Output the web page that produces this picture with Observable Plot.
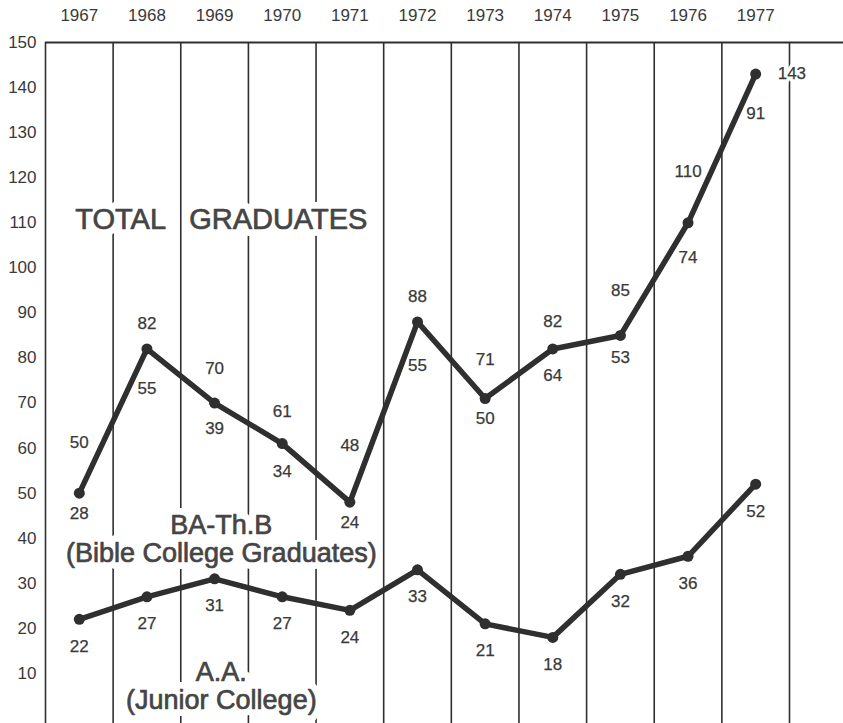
<!DOCTYPE html>
<html><head><meta charset="utf-8">
<script src="https://cdn.jsdelivr.net/npm/d3@7"></script>
<script src="https://cdn.jsdelivr.net/npm/@observablehq/plot@0.6"></script>
<style>
html,body{margin:0;padding:0;background:#fff;}
</style>
</head><body><div id="chart"></div>
<script>
// ---- data ----
const years = [1967, 1968, 1969, 1970, 1971, 1972, 1973, 1974, 1975, 1976, 1977];
const totalGraduates = [50, 82, 70, 61, 48, 88, 71, 82, 85, 110, 143];
const bibleCollege   = [28, 55, 39, 34, 24, 55, 50, 64, 53, 74, 91];   // BA-Th.B
const juniorCollege  = [22, 27, 31, 27, 24, 33, 21, 18, 32, 36, 52];   // A.A.
const yTicks = [10, 20, 30, 40, 50, 60, 70, 80, 90, 100, 110, 120, 130, 140, 150];

// ---- styling ----
const ink = "#2f2f2f";
const textInk = "#3a3a3a";
const font = "'Liberation Sans', Arial, Helvetica, sans-serif";

const rows = years.map((year, i) => ({year, total: totalGraduates[i], ba: bibleCollege[i], aa: juniorCollege[i]}));
// label placement: push labels away from steep neighbouring segments of the total line
rows.forEach((d, i) => {
  const nb = [rows[i - 1], rows[i + 1]].filter(Boolean).map(n => n.total);
  d.rise = Math.max(0, ...nb.map(v => v - d.total));
  d.drop = Math.max(0, ...nb.map(v => d.total - v));
});
const boundaries = [years[0] - 0.5, ...years.map(y => y + 0.5)];
const last = rows.length - 1;
const totalLabelRows = rows.filter((d, i) => i < last);
const totalLastRow = rows.filter((d, i) => i === last);

const bigNote = [{text: "TOTAL   GRADUATES", year: 1969.1, value: 110.7}];
const notes = [
  {text: "BA-Th.B", year: 1969.1, value: 42.8},
  {text: "(Bible College Graduates)", year: 1969.1, value: 36.6},
  {text: "A.A.", year: 1969.1, value: 10.2},
  {text: "(Junior College)", year: 1969.1, value: 4.0}
];

const pxPerUnit = (718 - 42) / 150;

function labelMarks(halo) {
  const paint = halo
    ? {fill: "white", stroke: "white", strokeWidth: 7, strokeLinejoin: "round"}
    : {fill: textInk, stroke: textInk, strokeWidth: 0.25};
  const notePaint = halo
    ? {fill: "white", stroke: "white", strokeWidth: 14, strokeLinejoin: "round"}
    : {fill: "#454545", stroke: "#454545", strokeWidth: 0.7};
  return [
    Plot.text(totalLabelRows, {x: "year", y: d => d.total + (25 + 0.8 * d.rise) / pxPerUnit, text: d => String(d.total), ...paint}),
    Plot.text(totalLastRow, {x: "year", y: "total", text: d => String(d.total), dx: 22, textAnchor: "start", ...paint}),
    Plot.text(rows, {x: "year", y: d => d.total - (20 + 0.6 * d.drop) / pxPerUnit, text: d => String(d.ba), ...paint}),
    Plot.text(rows, {x: "year", y: "aa", text: d => String(d.aa), dy: 27, ...paint}),
    Plot.text(bigNote, {x: "year", y: "value", text: "text", fontSize: 29, ...notePaint}),
    Plot.text(notes, {x: "year", y: "value", text: "text", fontSize: 27, ...notePaint})
  ];
}

const chart = Plot.plot({
  width: 843,
  height: 723,
  marginLeft: 45,
  marginRight: 0,
  marginTop: 42,
  marginBottom: 0,
  x: {domain: [1966.5, 1977.5], range: [45, 789], axis: "top", ticks: years,
      tickFormat: d => String(d), tickSize: 0, tickPadding: 22, label: null},
  y: {domain: [0, 150], range: [718, 42], ticks: yTicks, tickSize: 0, tickPadding: 9, label: null},
  style: {fontFamily: font, fontSize: "17px", color: textInk, background: "#fff"},
  marks: [
    Plot.ruleX(boundaries, {x: d => d, stroke: ink, strokeWidth: 1.6}),
    Plot.ruleY([150], {stroke: ink, strokeWidth: 2}),
    ...labelMarks(true),
    Plot.line(rows, {x: "year", y: "total", stroke: ink, strokeWidth: 5.5, strokeLinejoin: "round", strokeLinecap: "round"}),
    Plot.line(rows, {x: "year", y: "aa", stroke: ink, strokeWidth: 5.5, strokeLinejoin: "round", strokeLinecap: "round"}),
    Plot.dot(rows, {x: "year", y: "total", r: 5.5, fill: ink}),
    Plot.dot(rows, {x: "year", y: "aa", r: 5.5, fill: ink}),
    ...labelMarks(false)
  ]
});
document.getElementById("chart").appendChild(chart);
</script>
</body></html>
